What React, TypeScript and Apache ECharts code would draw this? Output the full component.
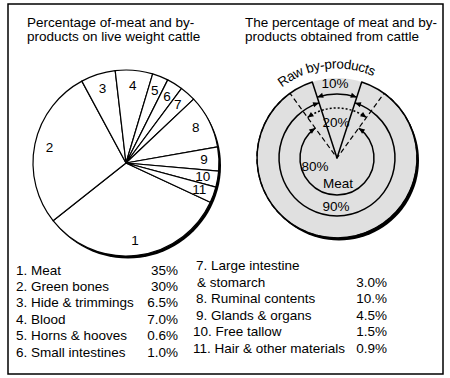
import React, { useEffect, useRef } from 'react';
import * as echarts from 'echarts';

// ---- data ----
const partNames = [
  'Meat',
  'Green bones',
  'Hide & trimmings',
  'Blood',
  'Horns & hooves',
  'Small intestines',
  'Large intestine\n& stomarch',
  'Ruminal contents',
  'Glands & organs',
  'Free tallow',
  'Hair & other materials',
];
const partValues = [35, 30, 6.5, 7.0, 0.6, 1.0, 3.0, 10, 4.5, 1.5, 0.9];
const partValueLabels = ['35%', '30%', '6.5%', '7.0%', '0.6%', '1.0%', '3.0%', '10.%', '4.5%', '1.5%', '0.9%'];

const outerNames = ['Raw by-products', 'Meat'];
const outerValues = [10, 90];
const innerNames = ['By-products', 'Meat'];
const innerValues = [20, 80];

const leftTitle = ['Percentage of-meat and by-', 'products on live weight cattle'];
const rightTitle = ['The percentage of meat and by-', 'products obtained from cattle'];

const FONT = '"Liberation Sans", Arial, Helvetica, sans-serif';
const FS = 13.5;
const INK = '#000';
const SHADE = '#e0e0e0';

export default function App() {
  const ref = useRef<HTMLDivElement>(null);

  useEffect(() => {
    document.body.style.margin = '0';
    const chart = echarts.init(ref.current!, null, { renderer: 'svg' });

    const LP = { cx: 126, cy: 163, r: 93 };
    const RP = { cx: 337, cy: 158, r: 80, midR: 58, arc10R: 64, arc20R: 50, loopR: 37 };

    const graphics: any[] = [];

    // shadows (thick bottom-right rims)
    graphics.push({ type: 'circle', z: 0, shape: { cx: LP.cx + 2, cy: LP.cy + 2.5, r: LP.r }, style: { fill: INK } });
    graphics.push({ type: 'circle', z: 0, shape: { cx: RP.cx + 2, cy: RP.cy + 2.5, r: RP.r }, style: { fill: INK } });

    const txt = (text: string, x: number, y: number, align = 'left', extra: any = {}, styleExtra: any = {}) => ({
      type: 'text',
      z: 20,
      x,
      y,
      ...extra,
      style: { text, font: `${FS}px ${FONT}`, fill: INK, align, verticalAlign: 'middle', ...styleExtra },
    });

    // titles
    graphics.push(txt(leftTitle[0], 27, 22.5));
    graphics.push(txt(leftTitle[1], 27, 36.3));
    graphics.push(txt(rightTitle[0], 245, 22.5));
    graphics.push(txt(rightTitle[1], 245, 36.3));

    // arcs with arrowheads
    const arrowArc = (r: number, a0: number, a1: number, dash?: number[]) => {
      const { cx, cy } = RP;
      const els: any[] = [];
      els.push({
        type: 'arc',
        z: 10,
        shape: { cx, cy, r, startAngle: a0, endAngle: a1, clockwise: true },
        style: { stroke: INK, lineWidth: 1.5, fill: null, lineDash: dash || null },
      });
      const head = (phi: number, dir: number) => {
        const px = cx + r * Math.cos(phi);
        const py = cy + r * Math.sin(phi);
        const tx = -Math.sin(phi) * dir;
        const ty = Math.cos(phi) * dir;
        const nx = Math.cos(phi);
        const ny = Math.sin(phi);
        const L = 6;
        const W = 2.6;
        return {
          type: 'polygon',
          z: 11,
          shape: {
            points: [
              [px, py],
              [px - L * tx + W * nx, py - L * ty + W * ny],
              [px - L * tx - W * nx, py - L * ty - W * ny],
            ],
          },
          style: { fill: INK },
        };
      };
      els.push(head(a1, 1), head(a0, -1));
      return els;
    };
    const top = -Math.PI / 2;
    const half10 = (Math.PI * outerValues[0]) / 100;
    const half20 = (Math.PI * innerValues[0]) / 100;
    graphics.push(...arrowArc(RP.arc10R, top - half10, top + half10));
    graphics.push(...arrowArc(RP.midR, top + half10, top - half10 + 2 * Math.PI));
    graphics.push(...arrowArc(RP.arc20R, top - half20, top + half20, [2, 2]));
    graphics.push(...arrowArc(RP.loopR, top + half20, top - half20 + 2 * Math.PI));

    // right labels
    graphics.push(txt(`${outerValues[0]}%`, RP.cx - 2, RP.cy - 75, 'center'));
    graphics.push(txt(`${innerValues[0]}%`, RP.cx - 1, RP.cy - 36, 'center'));
    graphics.push(txt(`${innerValues[1]}%`, RP.cx - 22, RP.cy + 8, 'center'));
    graphics.push(txt(outerNames[1], RP.cx + 1, RP.cy + 25, 'center'));
    graphics.push(txt(`${outerValues[1]}%`, RP.cx - 1, RP.cy + 48, 'center'));

    // curved "Raw by-products"
    const canvas = document.createElement('canvas');
    const ctx = canvas.getContext('2d')!;
    ctx.font = `${FS}px ${FONT}`;
    const chars = outerNames[0].split('');
    const widths = chars.map((c) => ctx.measureText(c).width);
    const total = widths.reduce((a, b) => a + b, 0);
    const tr = 94;
    const thetaC = (97 * Math.PI) / 180;
    let s = 0;
    chars.forEach((c, i) => {
      const mid = s + widths[i] / 2;
      s += widths[i];
      const th = thetaC + (total / 2 - mid) / tr;
      graphics.push(
        txt(c, RP.cx + tr * Math.cos(th), RP.cy - tr * Math.sin(th), 'center', { rotation: th - Math.PI / 2 })
      );
    });

    // legend table
    const col1 = [0, 1, 2, 3, 4, 5];
    col1.forEach((i, k) => {
      const y = 270 + k * 16.4;
      graphics.push(txt(`${i + 1}. ${partNames[i]}`, 16, y));
      graphics.push(txt(partValueLabels[i], 178, y, 'right'));
    });
    let y2 = 265.5;
    for (let i = 6; i < partNames.length; i++) {
      const lines = partNames[i].split('\n');
      lines.forEach((ln, j) => {
        const label = j === 0 ? `${i + 1}. ${ln}` : ln;
        const x = j === 0 ? (i + 1 >= 10 ? 193 : 196) : 197;
        graphics.push(txt(label, x, y2));
        if (j === lines.length - 1) graphics.push(txt(partValueLabels[i], 387, y2, 'right'));
        y2 += 16.5;
      });
    }

    // frame
    graphics.push({
      type: 'rect',
      z: 30,
      shape: { x: 8, y: 4, width: 435, height: 370 },
      style: { fill: null, stroke: INK, lineWidth: 1.5 },
    });

    const pieData = partNames.map((n, i) => ({ name: n, value: partValues[i] }));

    const option: any = {
      animation: false,
      backgroundColor: '#fff',
      series: [
        {
          type: 'pie',
          z: 2,
          silent: true,
          center: [LP.cx, LP.cy],
          radius: [0, LP.r],
          startAngle: -25,
          minAngle: 10,
          clockwise: true,
          label: { show: false },
          labelLine: { show: false },
          emphasis: { disabled: true },
          itemStyle: { color: '#fff', borderColor: INK, borderWidth: 1.2 },
          data: pieData,
        },
        {
          type: 'pie',
          z: 3,
          silent: true,
          center: [LP.cx, LP.cy],
          radius: [57, LP.r],
          startAngle: -25,
          minAngle: 10,
          clockwise: true,
          emphasis: { disabled: true },
          labelLayout: { hideOverlap: false },
          itemStyle: { color: 'rgba(0,0,0,0)', borderWidth: 0 },
          labelLine: { show: false },
          label: {
            show: true,
            position: 'inside',
            formatter: (p: any) => String(p.dataIndex + 1),
            fontSize: FS,
            fontFamily: FONT,
            color: INK,
          },
          data: pieData,
        },
        {
          // shaded disk: meat slice outlined (90% rim + wedge edges); raw by-products slice left open
          type: 'pie',
          z: 2,
          silent: true,
          center: [RP.cx, RP.cy],
          radius: [0, RP.r],
          startAngle: 90 + (outerValues[0] / 100) * 180,
          clockwise: true,
          label: { show: false },
          labelLine: { show: false },
          emphasis: { disabled: true },
          data: outerNames.map((n, i) => ({
            name: n,
            value: outerValues[i],
            itemStyle:
              i === 0
                ? { color: SHADE, borderWidth: 0 }
                : { color: SHADE, borderColor: INK, borderWidth: 1.5 },
          })),
        },
        {
          type: 'pie',
          z: 3,
          silent: true,
          center: [RP.cx, RP.cy],
          radius: [0, RP.r],
          startAngle: 90 + (innerValues[0] / 100) * 180,
          clockwise: true,
          label: { show: false },
          labelLine: { show: false },
          emphasis: { disabled: true },
          data: innerNames.map((n, i) => ({
            name: n,
            value: innerValues[i],
            itemStyle:
              i === 0
                ? { color: 'rgba(0,0,0,0)', borderWidth: 0 }
                : { color: 'rgba(0,0,0,0)', borderColor: INK, borderWidth: 1.2, borderType: [5, 3] },
          })),
        },
      ],
      graphic: { elements: graphics },
    };

    chart.setOption(option);
    return () => chart.dispose();
  }, []);

  return (
    <div
      ref={ref}
      style={{ width: 450, height: 378, position: 'fixed', left: 0, top: 0, background: '#fff' }}
    />
  );
}
